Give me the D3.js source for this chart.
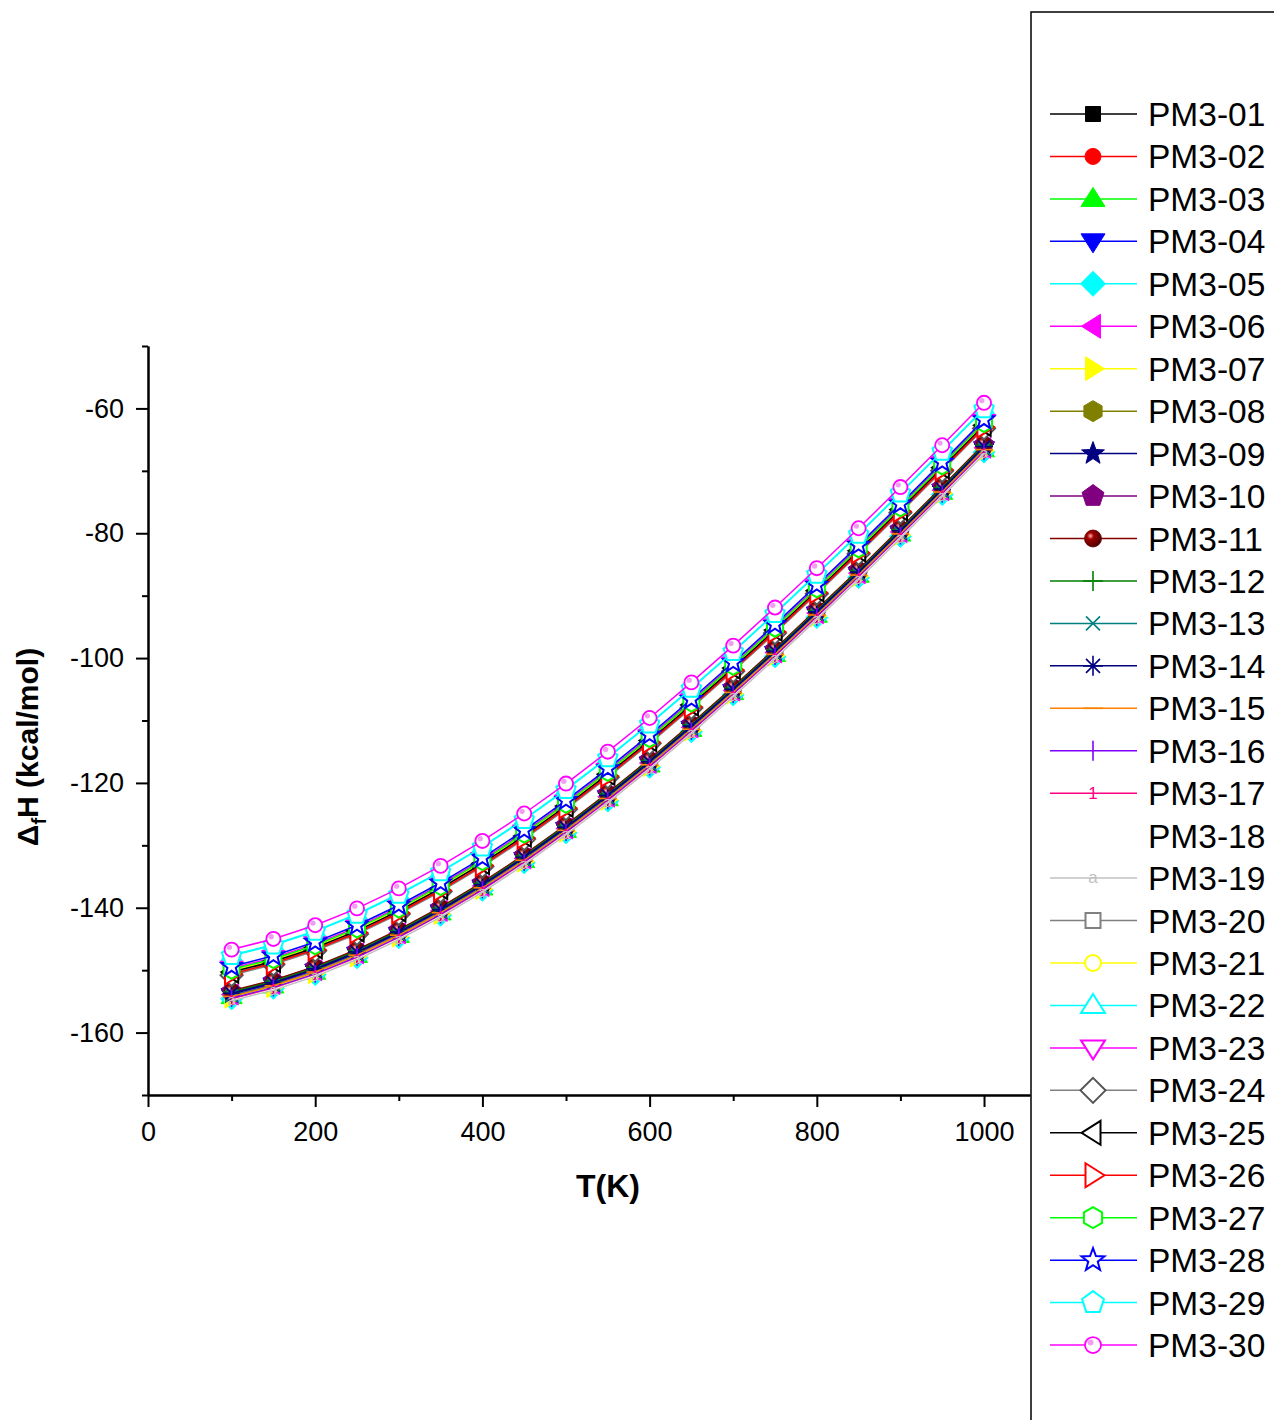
<!DOCTYPE html>
<html>
<head>
<meta charset="utf-8">
<script src="https://cdn.jsdelivr.net/npm/d3@7"></script>
<style>
  body { margin: 0; background: #fff; }
  svg { display: block; font-family: "Liberation Sans", Arial, sans-serif; }
</style>
</head>
<body>
<script>
// temperatures (K)
var temps = [100, 150, 200, 250, 300, 350, 400, 450, 500, 550, 600, 650, 700, 750, 800, 850, 900, 950, 1000];

// heat of formation, one array per PM3 conformer (kcal/mol)
var pm3_01 = [-153.5,-151.8,-149.6,-146.9,-143.7,-140.1,-136.1,-131.7,-126.9,-121.8,-116.4,-110.7,-104.8,-98.7,-92.4,-86.0,-79.4,-72.7,-65.9];
var pm3_02 = [-153.7,-152.0,-149.8,-147.1,-143.9,-140.3,-136.3,-131.9,-127.1,-122.0,-116.6,-110.9,-105.0,-98.9,-92.6,-86.2,-79.6,-72.9,-66.1];
var pm3_03 = [-154.3,-152.6,-150.4,-147.7,-144.5,-140.9,-136.9,-132.5,-127.7,-122.6,-117.2,-111.5,-105.6,-99.5,-93.2,-86.8,-80.2,-73.5,-66.7];
var pm3_04 = [-154.0,-152.3,-150.1,-147.4,-144.2,-140.6,-136.6,-132.2,-127.4,-122.3,-116.9,-111.2,-105.3,-99.2,-92.9,-86.5,-79.9,-73.2,-66.4];
var pm3_05 = [-154.6,-152.9,-150.7,-148.0,-144.8,-141.2,-137.2,-132.8,-128.0,-122.9,-117.5,-111.8,-105.9,-99.8,-93.5,-87.1,-80.5,-73.8,-67.0];
var pm3_06 = [-153.9,-152.2,-150.0,-147.3,-144.1,-140.5,-136.5,-132.1,-127.3,-122.2,-116.8,-111.1,-105.2,-99.1,-92.8,-86.4,-79.8,-73.1,-66.3];
var pm3_07 = [-154.4,-152.7,-150.5,-147.8,-144.6,-141.0,-137.0,-132.6,-127.8,-122.7,-117.3,-111.6,-105.7,-99.6,-93.3,-86.9,-80.3,-73.6,-66.8];
var pm3_08 = [-153.6,-151.9,-149.7,-147.0,-143.8,-140.2,-136.2,-131.8,-127.0,-121.9,-116.5,-110.8,-104.9,-98.8,-92.5,-86.1,-79.5,-72.8,-66.0];
var pm3_09 = [-153.8,-152.1,-149.9,-147.2,-144.0,-140.4,-136.4,-132.0,-127.2,-122.1,-116.7,-111.0,-105.1,-99.0,-92.7,-86.3,-79.7,-73.0,-66.2];
var pm3_10 = [-153.4,-151.7,-149.5,-146.8,-143.6,-140.0,-136.0,-131.6,-126.8,-121.7,-116.3,-110.6,-104.7,-98.6,-92.3,-85.9,-79.3,-72.6,-65.8];
var pm3_11 = [-153.3,-151.6,-149.4,-146.7,-143.5,-139.9,-135.9,-131.5,-126.7,-121.6,-116.2,-110.5,-104.6,-98.5,-92.2,-85.8,-79.2,-72.5,-65.7];
var pm3_12 = [-153.5,-151.8,-149.6,-146.9,-143.7,-140.1,-136.1,-131.7,-126.9,-121.8,-116.4,-110.7,-104.8,-98.7,-92.4,-86.0,-79.4,-72.7,-65.9];
var pm3_13 = [-154.1,-152.4,-150.2,-147.5,-144.3,-140.7,-136.7,-132.3,-127.5,-122.4,-117.0,-111.3,-105.4,-99.3,-93.0,-86.6,-80.0,-73.3,-66.5];
var pm3_14 = [-153.7,-152.0,-149.8,-147.1,-143.9,-140.3,-136.3,-131.9,-127.1,-122.0,-116.6,-110.9,-105.0,-98.9,-92.6,-86.2,-79.6,-72.9,-66.1];
var pm3_15 = [-154.2,-152.5,-150.3,-147.6,-144.4,-140.8,-136.8,-132.4,-127.6,-122.5,-117.1,-111.4,-105.5,-99.4,-93.1,-86.7,-80.1,-73.4,-66.6];
var pm3_16 = [-154.5,-152.8,-150.6,-147.9,-144.7,-141.1,-137.1,-132.7,-127.9,-122.8,-117.4,-111.7,-105.8,-99.7,-93.4,-87.0,-80.4,-73.7,-66.9];
var pm3_17 = [-154.7,-153.0,-150.8,-148.1,-144.9,-141.3,-137.3,-132.9,-128.1,-123.0,-117.6,-111.9,-106.0,-99.9,-93.6,-87.2,-80.6,-73.9,-67.1];
var pm3_18 = [-154.8,-153.1,-150.9,-148.2,-145.0,-141.4,-137.4,-133.0,-128.2,-123.1,-117.7,-112.0,-106.1,-100.0,-93.7,-87.3,-80.7,-74.0,-67.2];
var pm3_19 = [-154.9,-153.2,-151.0,-148.3,-145.1,-141.5,-137.5,-133.1,-128.3,-123.2,-117.8,-112.1,-106.2,-100.1,-93.8,-87.4,-80.8,-74.1,-67.3];
var pm3_20 = [-150.5,-148.8,-146.6,-143.9,-140.7,-137.1,-133.1,-128.7,-123.9,-118.8,-113.4,-107.7,-101.8,-95.7,-89.4,-83.0,-76.4,-69.7,-62.9];
var pm3_21 = [-150.1,-148.4,-146.2,-143.5,-140.3,-136.7,-132.7,-128.3,-123.5,-118.4,-113.0,-107.3,-101.4,-95.3,-89.0,-82.6,-76.0,-69.3,-62.5];
var pm3_22 = [-147.6,-145.9,-143.7,-141.0,-137.8,-134.2,-130.2,-125.8,-121.0,-115.9,-110.5,-104.8,-98.9,-92.8,-86.5,-80.1,-73.5,-66.8,-60.0];
var pm3_23 = [-149.7,-148.0,-145.8,-143.1,-139.9,-136.3,-132.3,-127.9,-123.1,-118.0,-112.6,-106.9,-101.0,-94.9,-88.6,-82.2,-75.6,-68.9,-62.1];
var pm3_24 = [-150.8,-149.1,-146.9,-144.2,-141.0,-137.4,-133.4,-129.0,-124.2,-119.1,-113.7,-108.0,-102.1,-96.0,-89.7,-83.3,-76.7,-70.0,-63.2];
var pm3_25 = [-150.3,-148.6,-146.4,-143.7,-140.5,-136.9,-132.9,-128.5,-123.7,-118.6,-113.2,-107.5,-101.6,-95.5,-89.2,-82.8,-76.2,-69.5,-62.7];
var pm3_26 = [-150.6,-148.9,-146.7,-144.0,-140.8,-137.2,-133.2,-128.8,-124.0,-118.9,-113.5,-107.8,-101.9,-95.8,-89.5,-83.1,-76.5,-69.8,-63.0];
var pm3_27 = [-149.9,-148.2,-146.0,-143.3,-140.1,-136.5,-132.5,-128.1,-123.3,-118.2,-112.8,-107.1,-101.2,-95.1,-88.8,-82.4,-75.8,-69.1,-62.3];
var pm3_28 = [-149.4,-147.7,-145.5,-142.8,-139.6,-136.0,-132.0,-127.6,-122.8,-117.7,-112.3,-106.6,-100.7,-94.6,-88.3,-81.9,-75.3,-68.6,-61.8];
var pm3_29 = [-147.7,-146.0,-143.8,-141.1,-137.9,-134.3,-130.3,-125.9,-121.1,-116.0,-110.6,-104.9,-99.0,-92.9,-86.6,-80.2,-73.6,-66.9,-60.1];
var pm3_30 = [-146.7,-145.0,-142.8,-140.1,-136.9,-133.3,-129.3,-124.9,-120.1,-115.0,-109.6,-103.9,-98.0,-91.9,-85.6,-79.2,-72.6,-65.9,-59.1];

var seriesNames = ["PM3-01","PM3-02","PM3-03","PM3-04","PM3-05","PM3-06","PM3-07","PM3-08","PM3-09","PM3-10",
                   "PM3-11","PM3-12","PM3-13","PM3-14","PM3-15","PM3-16","PM3-17","PM3-18","PM3-19","PM3-20",
                   "PM3-21","PM3-22","PM3-23","PM3-24","PM3-25","PM3-26","PM3-27","PM3-28","PM3-29","PM3-30"];
var seriesValues = [pm3_01,pm3_02,pm3_03,pm3_04,pm3_05,pm3_06,pm3_07,pm3_08,pm3_09,pm3_10,
                    pm3_11,pm3_12,pm3_13,pm3_14,pm3_15,pm3_16,pm3_17,pm3_18,pm3_19,pm3_20,
                    pm3_21,pm3_22,pm3_23,pm3_24,pm3_25,pm3_26,pm3_27,pm3_28,pm3_29,pm3_30];

var yMajorTicks = [-160, -140, -120, -100, -80, -60];
var yMinorTicks = [-170, -150, -130, -110, -90, -70, -50];
var xMajorTicks = [0, 200, 400, 600, 800, 1000];
var xMinorTicks = [100, 300, 500, 700, 900];

// Origin-style colour + symbol for each series
var styles = [
  {c: "#000000", m: "square",   f: true},
  {c: "#ff0000", m: "circle",   f: true},
  {c: "#00ff00", m: "triUp",    f: true},
  {c: "#0000ff", m: "triDown",  f: true},
  {c: "#00ffff", m: "diamond",  f: true},
  {c: "#ff00ff", m: "triLeft",  f: true},
  {c: "#ffff00", m: "triRight", f: true},
  {c: "#808000", m: "hexagon",  f: true},
  {c: "#000080", m: "star",     f: true},
  {c: "#800080", m: "pentagon", f: true},
  {c: "#800000", m: "sphere",   f: true},
  {c: "#008000", m: "plus",     f: false},
  {c: "#008080", m: "cross",    f: false},
  {c: "#000080", m: "asterisk", f: false},
  {c: "#ff8000", m: "dash",     f: false},
  {c: "#8000ff", m: "bar",      f: false},
  {c: "#ff0080", m: "one",      f: false},
  {c: "#ffffff", m: "none",     f: false},
  {c: "#c0c0c0", m: "letterA",  f: false},
  {c: "#808080", m: "square",   f: false},
  {c: "#ffff00", m: "circle",   f: false},
  {c: "#00ffff", m: "triUp",    f: false},
  {c: "#ff00ff", m: "triDown",  f: false},
  {c: "#808080", m: "diamond",  f: false, s: "#555555"},
  {c: "#000000", m: "triLeft",  f: false},
  {c: "#ff0000", m: "triRight", f: false},
  {c: "#00ff00", m: "hexagon",  f: false},
  {c: "#0000ff", m: "star",     f: false},
  {c: "#00ffff", m: "pentagon", f: false},
  {c: "#ff00ff", m: "osphere",  f: false}
];

var W = 1274, H = 1420;
var svg = d3.select("body").append("svg")
    .attr("width", W)
    .attr("height", H);

var defs = svg.append("defs");
var g1 = defs.append("radialGradient").attr("id", "ball").attr("cx", "35%").attr("cy", "35%").attr("r", "65%");
g1.append("stop").attr("offset", "0%").attr("stop-color", "#ffb0b0");
g1.append("stop").attr("offset", "30%").attr("stop-color", "#a00000");
g1.append("stop").attr("offset", "100%").attr("stop-color", "#500000");

var x = d3.scaleLinear().domain([0, 1055]).range([148, 1030]);
var y = d3.scaleLinear().domain([-170, -50]).range([1095, 346]);

function poly(n, r, rot) {
  var pts = [];
  for (var i = 0; i < n; i++) {
    var a = rot + i * 2 * Math.PI / n;
    pts.push([r * Math.cos(a), r * Math.sin(a)]);
  }
  return "M" + pts.map(function(p) { return p[0].toFixed(2) + "," + p[1].toFixed(2); }).join("L") + "Z";
}

function starPath(ro, ri) {
  var pts = [];
  for (var i = 0; i < 10; i++) {
    var r = i % 2 ? ri : ro;
    var a = -Math.PI / 2 + i * Math.PI / 5;
    pts.push([r * Math.cos(a), r * Math.sin(a)]);
  }
  return "M" + pts.map(function(p) { return p[0].toFixed(2) + "," + p[1].toFixed(2); }).join("L") + "Z";
}

// draws one marker into group g at (0,0), k = scale
function drawMarker(g, st, k) {
  var col = st.s || st.c;
  var fill = st.f ? st.c : "#ffffff";
  var sw = st.f ? 1 : 2;
  var p = null;
  switch (st.m) {
    case "square":   p = "M-7.5,-7.5h15v15h-15Z"; break;
    case "triUp":    p = "M0,-11.5L12,7.5L-12,7.5Z"; break;
    case "triDown":  p = "M0,11.5L12,-7.5L-12,-7.5Z"; break;
    case "triLeft":  p = "M-11.5,0L7.5,-12L7.5,12Z"; break;
    case "triRight": p = "M11.5,0L-7.5,-12L-7.5,12Z"; break;
    case "diamond":  p = "M0,-12.5L12.5,0L0,12.5L-12.5,0Z"; break;
    case "hexagon":  p = poly(6, 10.5, -Math.PI / 2); break;
    case "pentagon": p = poly(5, 11.5, -Math.PI / 2); break;
    case "star":     p = starPath(12, 5); break;
  }
  if (p) {
    g.append("path").attr("d", p).attr("transform", "scale(" + k + ")")
      .attr("fill", fill).attr("stroke", col).attr("stroke-width", sw / k);
    return;
  }
  if (st.m == "circle") {
    g.append("circle").attr("r", 8 * k).attr("fill", fill).attr("stroke", col).attr("stroke-width", sw);
  } else if (st.m == "sphere") {
    g.append("circle").attr("r", 8.5 * k).attr("fill", "url(#ball)").attr("stroke", "#600000").attr("stroke-width", 0.8);
  } else if (st.m == "osphere") {
    g.append("circle").attr("r", 8 * k).attr("fill", "#ffffff").attr("stroke", col).attr("stroke-width", 1.8);
    g.append("circle").attr("cx", -2.5 * k).attr("cy", -2.5 * k).attr("r", 3 * k).attr("fill", "#f39cf3");
  } else if (st.m == "plus" || st.m == "cross" || st.m == "asterisk" || st.m == "dash" || st.m == "bar") {
    var d = "";
    var r = 10 * k, q = 7 * k;
    if (st.m == "plus" || st.m == "asterisk") d += "M" + (-r) + ",0H" + r + "M0," + (-r) + "V" + r;
    if (st.m == "cross" || st.m == "asterisk") d += "M" + (-q) + "," + (-q) + "L" + q + "," + q + "M" + (-q) + "," + q + "L" + q + "," + (-q);
    if (st.m == "dash") d = "M" + (-r) + ",0H" + r;
    if (st.m == "bar") d = "M0," + (-r) + "V" + r;
    g.append("path").attr("d", d).attr("stroke", col).attr("stroke-width", 1.6).attr("fill", "none");
  } else if (st.m == "one") {
    g.append("text").attr("text-anchor", "middle").attr("y", 6 * k)
      .style("font-size", (17 * k) + "px").attr("fill", col).text("1");
  } else if (st.m == "letterA") {
    g.append("text").attr("text-anchor", "middle").attr("y", 5 * k)
      .style("font-size", (17 * k) + "px").attr("fill", col).text("a");
  }
}

// ---- plot lines and markers
var line = d3.line()
    .x(function(d) { return x(d.t); })
    .y(function(d) { return y(d.v); });

var plot = svg.append("g");
seriesValues.forEach(function(vals, i) {
  var st = styles[i];
  var pts = temps.map(function(t, j) { return {t: t, v: vals[j]}; });
  var sg = plot.append("g");
  sg.append("path").datum(pts).attr("d", line)
    .attr("fill", "none").attr("stroke", st.c).attr("stroke-width", 1.5);
  pts.forEach(function(p) {
    var mg = sg.append("g").attr("transform", "translate(" + x(p.t) + "," + y(p.v) + ")");
    drawMarker(mg, st, 0.88);
  });
});

// ---- axes
var fmt = function(d) { return String(d); };
svg.append("g").attr("transform", "translate(148,0)")
    .call(d3.axisLeft(y).tickValues(yMajorTicks).tickSize(12).tickSizeOuter(0).tickPadding(12).tickFormat(fmt));
svg.append("g").attr("transform", "translate(148,0)")
    .call(d3.axisLeft(y).tickValues(yMinorTicks).tickSize(6).tickSizeOuter(0).tickFormat(""));

svg.append("g").attr("transform", "translate(0,1095)")
    .call(d3.axisBottom(x).tickValues(xMajorTicks).tickSize(12).tickSizeOuter(0).tickPadding(15).tickFormat(fmt));
svg.append("g").attr("transform", "translate(0,1095)")
    .call(d3.axisBottom(x).tickValues(xMinorTicks).tickSize(6).tickSizeOuter(0).tickFormat(""));

svg.selectAll(".domain").attr("stroke", "#000").attr("stroke-width", 2);
svg.selectAll(".tick line").attr("stroke", "#000").attr("stroke-width", 2);
svg.selectAll(".tick text").style("font-size", "27px")
    .style("font-family", "'Liberation Sans', Arial, sans-serif").attr("fill", "#000");

// axis titles
svg.append("text")
    .attr("x", 608).attr("y", 1197)
    .attr("text-anchor", "middle")
    .style("font-size", "32px").style("font-weight", "bold")
    .text("T(K)");

var yt = svg.append("text")
    .attr("transform", "translate(38,747) rotate(-90)")
    .attr("text-anchor", "middle")
    .style("font-size", "30px").style("font-weight", "bold");
yt.append("tspan").text("\u0394");
yt.append("tspan").attr("dy", 8).style("font-size", "20px").text("f");
yt.append("tspan").attr("dy", -8).text("H (kcal/mol)");

// ---- legend
svg.append("rect")
    .attr("x", 1031).attr("y", 12)
    .attr("width", 400).attr("height", 1500)
    .attr("fill", "none").attr("stroke", "#000").attr("stroke-width", 1.5);

var leg = svg.append("g");
seriesNames.forEach(function(name, i) {
  var cy = 114 + i * 42.45;
  var st = styles[i];
  var row = leg.append("g").attr("transform", "translate(0," + cy + ")");
  row.append("line").attr("x1", 1050).attr("x2", 1137).attr("y1", 0).attr("y2", 0)
    .attr("stroke", st.c).attr("stroke-width", 1.5);
  var mg = row.append("g").attr("transform", "translate(1093,0)");
  drawMarker(mg, st, 1);
  row.append("text").attr("x", 1148).attr("y", 12)
    .style("font-size", "33.5px").attr("fill", "#000").text(name);
});
</script>
</body>
</html>
